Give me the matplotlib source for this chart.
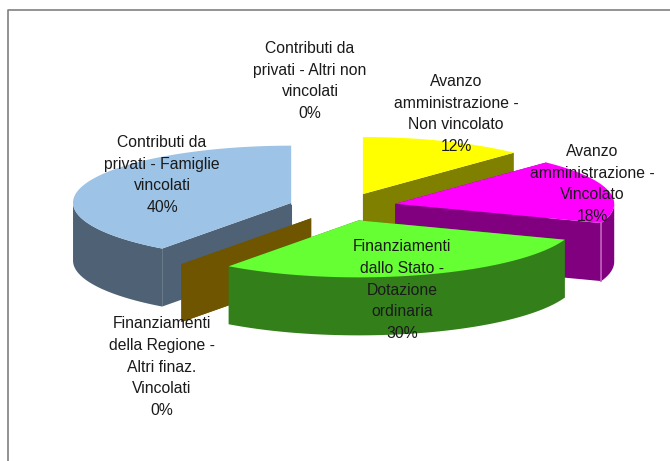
import numpy as np
import matplotlib
matplotlib.use("Agg")
import matplotlib.pyplot as plt

# slices clockwise from the top of the pie
labels = ['Avanzo\namministrazione -\nNon vincolato',
          'Avanzo\namministrazione -\nVincolato',
          'Finanziamenti\ndallo Stato -\nDotazione\nordinaria',
          'Finanziamenti\ndella Regione -\nAltri finaz.\nVincolati',
          'Contributi da\nprivati - Famiglie\nvincolati',
          'Contributi da\nprivati - Altri non\nvincolati']
values = [12.1, 18.4, 29.6, 0, 39.9, 0]
top_colors = ['#FFFF00', '#FF00FF', '#66FF33', '#E0B000', '#9DC3E6', '#E8E8E8']
wall_colors = ['#808000', '#800080', '#33801A', '#705500', '#4F6275', '#707070']
edge_colors = [None, '#C060C0', None, None, 'white', None]
label_pos = [(456, 114), (592, 184), (402, 290), (162, 367), (162, 175), (310, 81)]
draw_order = [5, 0, 1, 4, 3, 2]

CX, CY = 343, 207
RX, RY = 219, 57
DEPTH = 58
EXPLODE = 0.245

fig = plt.figure(figsize=(6.7, 4.61), dpi=100)
ax = fig.add_axes([0, 0, 1, 1])
ax.set_xlim(0, 670)
ax.set_ylim(461, 0)
ax.axis('off')

# chart frame, cut off by the picture on the right and bottom
ax.plot([8, 8, 670], [461, 10, 10], color='#808080', lw=1.2)

total = sum(values)
ends = 90 - 360 * np.cumsum(values) / total
starts = np.r_[90, ends[:-1]]


def rim(cx, cy, a0, a1):
    t = np.radians(np.linspace(a0, a1, max(int(abs(a1 - a0)) * 2, 2)))
    return cx + RX * np.cos(t), cy - RY * np.sin(t)


def draw_slice(i, z):
    a0, a1 = starts[i], ends[i]
    mid = np.radians((a0 + a1) / 2)
    cx = CX + EXPLODE * RX * np.cos(mid)
    cy = CY - EXPLODE * RY * np.sin(mid)
    xs, ys = rim(cx, cy, a0, a1)

    # the two cut faces
    for x, y in [(xs[0], ys[0]), (xs[-1], ys[-1])]:
        ax.fill([cx, x, x, cx], [cy, y, y + DEPTH, cy + DEPTH],
                color=wall_colors[i], lw=0, zorder=z)

    if a0 == a1:
        return

    # outer wall, only the part that faces the viewer
    front = np.sin(np.radians(np.linspace(a0, a1, len(xs)))) <= 0
    if front.any():
        fx, fy = xs[front], ys[front]
        ax.fill(np.r_[fx, fx[::-1]], np.r_[fy, fy[::-1] + DEPTH],
                color=wall_colors[i], lw=0, zorder=z)

    ax.fill(np.r_[cx, xs], np.r_[cy, ys], color=top_colors[i], lw=0, zorder=z)

    # thin light edge where rim meets the cut face
    if edge_colors[i]:
        ax.plot([xs[-1], xs[-1]], [ys[-1], ys[-1] + DEPTH],
                color=edge_colors[i], lw=1.2, zorder=z)


for z, i in enumerate(draw_order):
    draw_slice(i, z + 2)

for lab, v, (x, y) in zip(labels, values, label_pos):
    ax.text(x, y, f'{lab}\n{round(v)}%', ha='center', va='center',
            multialignment='center', family='Liberation Sans', fontsize=11.3,
            linespacing=1.58, color='#1a1a1a', zorder=20)

fig.savefig('out.png', dpi=100)
